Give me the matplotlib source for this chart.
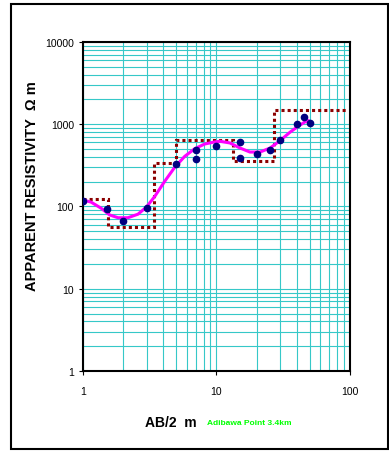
import matplotlib
matplotlib.use("Agg")
import matplotlib.pyplot as plt
from matplotlib.patches import Rectangle

plt.rcParams['font.family'] = ['Liberation Sans', 'DejaVu Sans']

# field data: AB/2 (m) vs apparent resistivity (ohm m)
ab2 = [1, 1.5, 2, 3, 5, 7, 7, 10, 15, 15, 20, 25, 30, 40, 45, 50]
rho_a = [117, 93, 67.5, 97, 328, 482, 378, 550, 608, 388, 430, 485, 645, 1020, 1228, 1040]

# smooth fitted curve
curve_x = [1.0, 1.15, 1.37, 1.58, 1.83, 2.17, 2.58, 2.98, 3.44, 4.09, 4.86, 5.78, 6.87,
           8.16, 9.69, 10.6, 12.6, 15.0, 17.8, 21.2, 25.2, 29.9, 35.5, 41.0, 46.0, 48.7, 50.7]
curve_y = [120, 113, 95, 79, 73, 73, 80.6, 98, 132, 202, 299, 407, 504,
           575, 609, 621, 592, 514, 459, 459, 514, 631, 799, 946, 1067, 1107, 1067]

# layered model
layer_edges = [1, 1.54, 3.40, 5.0, 13.4, 27.1, 95]
layer_rho = [122, 57, 337, 650, 354, 1480]


def draw_sounding():
    fig = plt.figure(figsize=(3.89, 4.52), dpi=100)
    ax = fig.add_axes([0.2134, 0.177, 0.6863, 0.7279])
    ax.set_xscale('log')
    ax.set_yscale('log')
    ax.set_xlim(1, 100)
    ax.set_ylim(1, 10000)

    ax.grid(True, which='both', color='#36C8C8', linewidth=0.8)
    ax.set_axisbelow(True)

    ax.stairs(layer_rho, layer_edges, baseline=None, color='#8B0000', linewidth=2.2,
              linestyle=(0, (1, 1)), zorder=3)
    ax.plot(curve_x, curve_y, color='#FF00FF', linewidth=2.2, zorder=4)
    ax.plot(ab2, rho_a, 'o', color='#000080', markersize=4.5, zorder=5)

    for s in ax.spines.values():
        s.set_linewidth(1.5)
    ax.tick_params(which='minor', length=0)
    ax.tick_params(which='major', length=3, width=0.8, labelsize=7.5)
    ax.tick_params(axis='x', which='major', pad=8)
    ax.set_xticks([1, 10, 100])
    ax.set_xticklabels(['1', '10', '100'])
    ax.set_yticks([1, 10, 100, 1000, 10000])
    ax.set_yticklabels(['1', '10', '100', '1000', '10000'])

    fig.text(0.082, 0.588, 'APPARENT RESISTIVITY  \u03a9 m', fontsize=10.5, fontweight='bold',
             rotation=90, ha='center', va='center')
    fig.text(0.438, 0.064, 'AB/2  m', fontsize=10, fontweight='bold', ha='center', va='center')
    fig.text(0.532, 0.064, 'Adibawa Point 3.4km', fontsize=6, fontweight='bold',
             color='#00FF00', ha='left', va='center')

    fig.patches.append(Rectangle((0.028, 0.004), 0.969, 0.985, transform=fig.transFigure,
                                 fill=False, edgecolor='black', linewidth=1.5))
    fig.savefig('out.png', dpi=100)


def main():
    draw_sounding()


if __name__ == "__main__":
    main()
